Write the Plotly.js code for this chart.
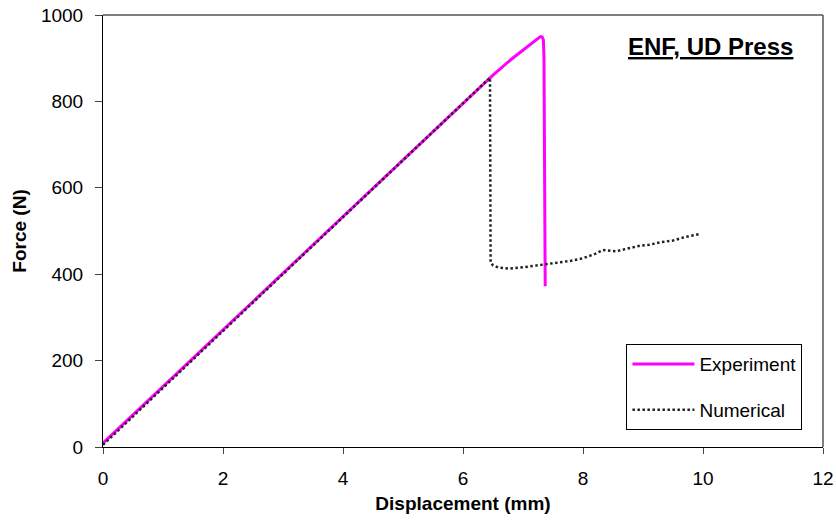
<!DOCTYPE html>
<html>
<head>
<meta charset="utf-8">
<script src="https://cdn.plot.ly/plotly-3.0.1.min.js"></script>
<style>html,body{margin:0;padding:0;background:#fff;}#chart{width:836px;height:522px;}</style>
</head>
<body>
<div id="chart"></div>
<script>
const expX = [0, 1, 2, 3, 4, 5, 6, 6.5, 6.8, 7.0, 7.15, 7.25, 7.29, 7.32, 7.34, 7.35, 7.36, 7.37];
const expY = [9, 140, 272, 404, 535, 666, 797, 861, 897, 919, 935, 946, 950, 949, 942, 900, 650, 372];

const numX = [0, 1, 2, 3, 4, 5, 6, 6.45, 6.46, 6.5, 6.6, 6.78, 7.0, 7.2, 7.4, 7.6, 7.8, 8.0, 8.2, 8.33, 8.45, 8.55, 8.7, 8.95, 9.1, 9.3, 9.5, 9.7, 9.95];
const numY = [5, 137, 268, 400, 532, 663, 795, 855, 428, 420, 415, 413, 416, 420, 424, 428, 431, 437, 447, 456, 454, 453, 458, 466, 468, 474, 478, 486, 493];

const seriesNames = ["Experiment", "Numerical"];
const xTicks = [0, 2, 4, 6, 8, 10, 12];
const yTicks = [0, 200, 400, 600, 800, 1000];

const traces = [
  {x: expX, y: expY, mode: "lines", name: seriesNames[0], legendgroup: "a",
   line: {color: "#FF00FF", width: 3}},
  {x: numX, y: numY, mode: "lines", name: seriesNames[1], legendgroup: "b",
   line: {color: "#222222", width: 2.5, dash: "2.5px,2.5px"}}
];

const layout = {
  width: 836, height: 522,
  margin: {l: 103, r: 13, t: 15, b: 75},
  paper_bgcolor: "#fff", plot_bgcolor: "#fff",
  font: {family: "Liberation Sans, Arial, sans-serif", color: "#000", size: 19},
  showlegend: true,
  legend: {x: 0.727, y: 0.238, xanchor: "left", yanchor: "top",
           bordercolor: "#000", borderwidth: 1, bgcolor: "#fff",
           font: {size: 19}, traceorder: "grouped", tracegroupgap: 18, itemwidth: 62,
           entrywidth: 180, entrywidthmode: "pixels"},
  xaxis: {range: [0, 12], tickvals: xTicks, ticks: "outside", ticklen: 6,
          ticklabelstandoff: 8,
          showgrid: false, zeroline: false, showline: true, linecolor: "#000", linewidth: 1,
          tickfont: {size: 19},
          title: {text: "<b>Displacement (mm)</b>", font: {size: 19}, standoff: 8}},
  yaxis: {range: [0, 1000], tickvals: yTicks, ticks: "outside", ticklen: 7,
          ticklabelstandoff: 8,
          showgrid: false, zeroline: false, showline: true, linecolor: "#000", linewidth: 1,
          tickfont: {size: 19},
          title: {text: "<b>Force (N)</b>", font: {size: 19}, standoff: 9}},
  shapes: [
    {type: "line", xref: "paper", yref: "paper", x0: 0, x1: 1, y0: 1, y1: 1, line: {color: "#555", width: 1.5}},
    {type: "line", xref: "paper", yref: "paper", x0: 1, x1: 1, y0: 0, y1: 1, line: {color: "#555", width: 1.5}}
  ],
  annotations: [
    {xref: "paper", yref: "paper", x: 0.844, y: 0.926, xanchor: "center", yanchor: "middle",
     showarrow: false, text: "<b><u>ENF, UD Press</u></b>", font: {size: 24}}
  ]
};

Plotly.newPlot("chart", traces, layout, {displayModeBar: false, staticPlot: true});
</script>
</body>
</html>
